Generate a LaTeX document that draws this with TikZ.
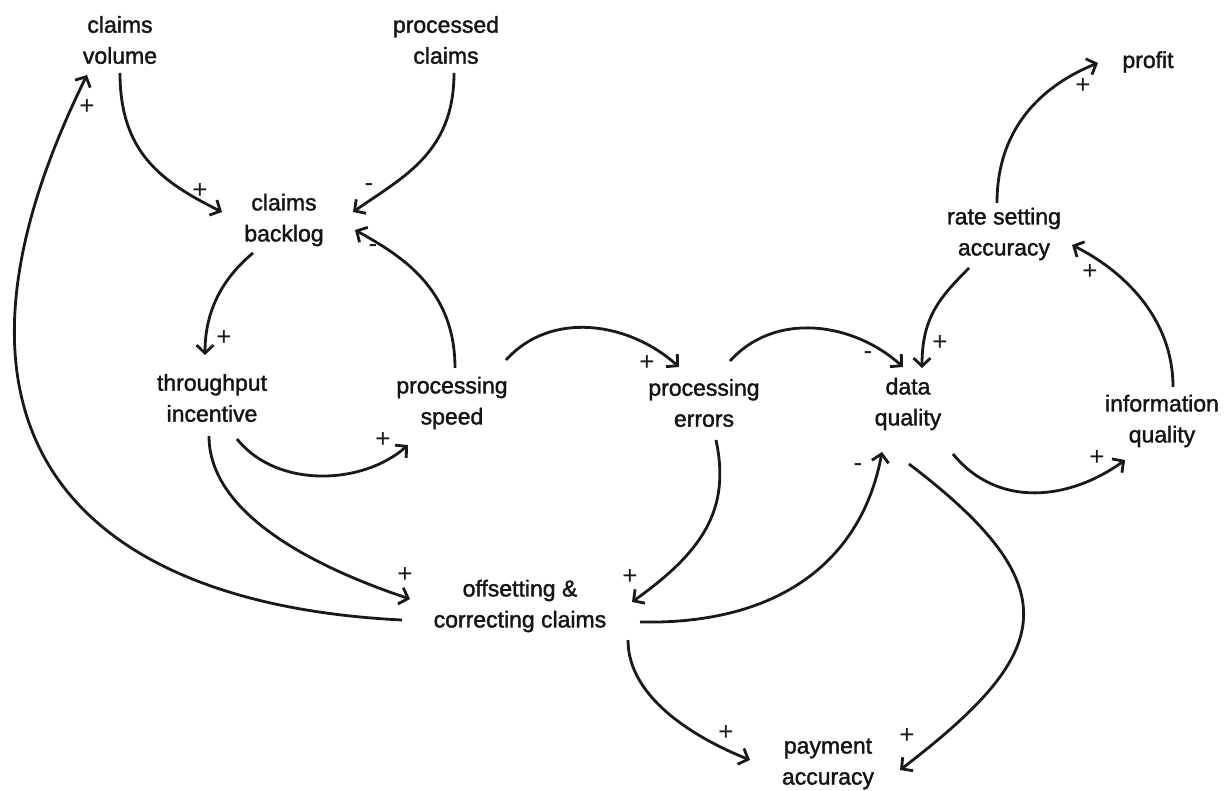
\documentclass[tikz,border=0pt]{standalone}
\usepackage{fontspec}
\setmainfont{Liberation Sans}
\newfontfamily\varfont{Liberation Sans}[FakeBold=1.6]
\usetikzlibrary{arrows.meta}
\begin{document}
\begin{tikzpicture}[x=1pt,y=-1pt,
  var/.style={align=center, inner sep=0pt, font=\varfont\fontsize{23}{31}\selectfont, text=black!92},
  link/.style={line width=2.8pt, draw=black!90, -{Straight Barb[length=8pt,width=17pt]}},
  sign/.style={font=\fontsize{26}{26}\selectfont, inner sep=0pt, text=black!90},
]
\useasboundingbox[fill=white] (0,0) rectangle (1227,791);

% variables
\node[var] (cv) at (120,40)   {claims\\volume};
\node[var] (pc) at (446,40)   {processed\\claims};
\node[var] (cb) at (284,220)  {claims\\backlog};
\node[var] (ti) at (212,398)  {throughput\\incentive};
\node[var] (ps) at (452,403)  {processing\\speed};
\node[var] (pe) at (704,403)  {processing\\errors};
\node[var] (dq) at (908,404)  {data\\quality};
\node[var] (oc) at (520,606)  {offsetting \&\\correcting claims};
\node[var] (pa) at (828,764)  {payment\\accuracy};
\node[var] (rs) at (1004,234) {rate setting\\accuracy};
\node[var] (iq) at (1162,421) {information\\quality};
\node[var] (pr) at (1148,62)  {profit};

% causal links
\draw[link] ([shift={(0,33)}]cv.center) .. controls +(0,80) and +(-60,-30) .. ([shift={(-62,-8)}]cb.center)
  node[sign, at end, shift={(-22,-21)}] {+};
\draw[link] ([shift={(8,33)}]pc.center) .. controls +(0,80) and +(50,-35) .. ([shift={(69,-8)}]cb.center)
  node[sign, at end, shift={(16,-24)}] {-};
\draw[link] ([shift={(3,-35)}]ps.center) .. controls +(0,-80) and +(45,25) .. ([shift={(71,10)}]cb.center)
  node[sign, at end, shift={(18,19)}] {-};
\draw[link] ([shift={(-31,33)}]cb.center) .. controls +(-30,25) and +(0,-45) .. ([shift={(-7,-43)}]ti.center)
  node[sign, at end, shift={(19,-17)}] {+};
\draw[link] ([shift={(25,41)}]ti.center) .. controls +(40,50) and +(-45,40) .. ([shift={(-44,42)}]ps.center)
  node[sign, at end, shift={(-25,-5)}] {+};
\draw[link] ([shift={(-3,38)}]ti.center) .. controls +(0,80) and +(-90,-30) .. ([shift={(-110,-7)}]oc.center)
  node[sign, at end, shift={(-5,-24)}] {+};
\draw[link] ([shift={(-118,14)}]oc.center) .. controls +(-305,-15) and +(-185,375) .. ([shift={(-33,35)}]cv.center)
  node[sign, at end, shift={(0,32)}] {+};
\draw[link] ([shift={(54,-43)}]ps.center) .. controls +(45,-50) and +(-50,-45) .. ([shift={(-25,-36)}]pe.center)
  node[sign, at end, shift={(-32,-4)}] {+};
\draw[link] ([shift={(26,-42)}]pe.center) .. controls +(45,-50) and +(-50,-45) .. ([shift={(-5,-37)}]dq.center)
  node[sign, at end, shift={(-35,-11)}] {-};
\draw[link] ([shift={(-35,34)}]rs.center) .. controls +(-30,30) and +(0,-50) .. ([shift={(14,-36)}]dq.center)
  node[sign, at end, shift={(18,-25)}] {+};
\draw[link] ([shift={(12,37)}]pe.center) .. controls +(15,70) and +(70,-50) .. ([shift={(112,-4)}]oc.center)
  node[sign, at end, shift={(-2,-25)}] {+};
\draw[link] ([shift={(120,16)}]oc.center) .. controls +(140,3) and +(-20,108) .. ([shift={(-26,48)}]dq.center)
  node[sign, at end, shift={(-24,16)}] {-};
\draw[link] ([shift={(108,34)}]oc.center) .. controls +(0,60) and +(-50,-20) .. ([shift={(-78,-4)}]pa.center)
  node[sign, at end, shift={(-24,-27)}] {+};
\draw[link] ([shift={(1,60)}]dq.center) .. controls +(166,126) and +(150,-115) .. ([shift={(72,6)}]pa.center)
  node[sign, at end, shift={(7,-34)}] {+};
\draw[link] ([shift={(45,50)}]dq.center) .. controls +(45,55) and +(-55,40) .. ([shift={(-37,39)}]iq.center)
  node[sign, at end, shift={(-28,-2)}] {+};
\draw[link] ([shift={(11,-34)}]iq.center) .. controls +(0,-70) and +(50,25) .. ([shift={(68,11)}]rs.center)
  node[sign, at end, shift={(18,27)}] {+};
\draw[link] ([shift={(-7,-31)}]rs.center) .. controls +(0,-80) and +(-50,20) .. ([shift={(-50,1)}]pr.center)
  node[sign, at end, shift={(-15,23)}] {+};
\end{tikzpicture}
\end{document}
